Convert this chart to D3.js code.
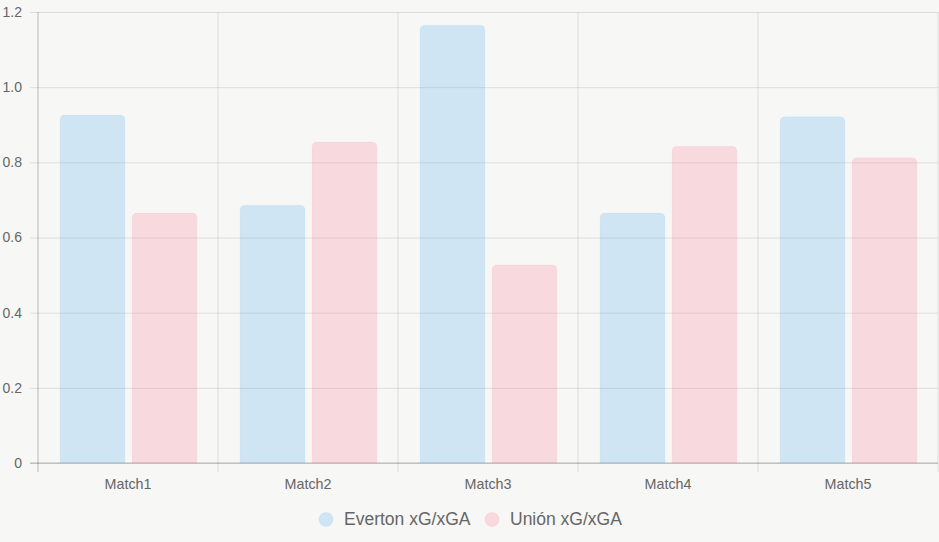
<!DOCTYPE html>
<html>
<head>
<meta charset="utf-8">
<script src="https://cdn.jsdelivr.net/npm/d3@7"></script>
<style>
  body { margin: 0; background: #f7f7f5; }
  svg { display: block; font-family: "Liberation Sans", Arial, Helvetica, sans-serif; }
</style>
</head>
<body>
<div id="chart"></div>
<script>
var matches = ["Match1", "Match2", "Match3", "Match4", "Match5"];
var evertonXG = [0.926, 0.686, 1.165, 0.665, 0.921];
var unionXG = [0.665, 0.854, 0.527, 0.843, 0.812];
var seriesNames = ["Everton xG/xGA", "Unión xG/xGA"];
var yTicks = [0, 0.2, 0.4, 0.6, 0.8, 1.0, 1.2];

var svgWidth = 939;
var svgHeight = 542;

var margin = { top: 12, right: 1, bottom: 79, left: 38 };
var chartWidth = svgWidth - margin.left - margin.right;
var chartHeight = svgHeight - margin.top - margin.bottom;

var fills = ["rgba(54,162,235,0.2)", "rgba(255,99,132,0.2)"];
var strokes = ["rgba(54,162,235,0.1)", "rgba(255,99,132,0.1)"];

var svg = d3.select("#chart")
  .append("svg")
  .attr("width", svgWidth)
  .attr("height", svgHeight);

svg.append("rect")
  .attr("width", svgWidth)
  .attr("height", svgHeight)
  .attr("fill", "#f7f7f5");

var chartGroup = svg.append("g")
  .attr("transform", `translate(${margin.left}, ${margin.top})`);

var xScale = d3.scaleBand()
  .domain(matches)
  .range([0, chartWidth]);

// chart.js style: categoryPercentage 0.8, barPercentage 0.9
var xInner = d3.scaleBand()
  .domain([0, 1])
  .range([xScale.bandwidth() * 0.1, xScale.bandwidth() * 0.9])
  .paddingInner(0.1)
  .paddingOuter(0.05);

var yScale = d3.scaleLinear()
  .domain([0, 1.2])
  .range([chartHeight, 0]);

// horizontal grid
var leftAxis = d3.axisLeft(yScale)
  .tickValues(yTicks)
  .tickSize(-chartWidth - 8)
  .tickFormat(d => d === 0 ? "0" : d3.format(".1f")(d))
  .tickPadding(-6);

var gy = chartGroup.append("g")
  .attr("transform", "translate(-8,0)")
  .call(leftAxis);
gy.select(".domain").remove();
gy.selectAll("line").attr("stroke", "rgba(0,0,0,0.1)");
gy.selectAll("text")
  .attr("x", 6)
  .attr("dx", -8)
  .attr("fill", "#666")
  .style("font-size", "14px")
  .style("text-anchor", "end");
gy.selectAll(".tick text").attr("transform", "translate(-6,0)");

// vertical grid
var gridX = chartGroup.append("g");
var xLines = d3.range(matches.length + 1).map(i => i * xScale.step());
gridX.selectAll("line")
  .data(xLines)
  .enter()
  .append("line")
  .attr("x1", d => d)
  .attr("x2", d => d)
  .attr("y1", 0)
  .attr("y2", chartHeight + 9)
  .attr("stroke", (d, i) => i === 0 ? "rgba(0,0,0,0.25)" : "rgba(0,0,0,0.1)");

// zero line
chartGroup.append("line")
  .attr("x1", -8)
  .attr("x2", chartWidth)
  .attr("y1", yScale(0))
  .attr("y2", yScale(0))
  .attr("stroke", "rgba(0,0,0,0.25)");

// bars
var allSeries = [evertonXG, unionXG];
var radius = 5;
function barPath(x, y, w, h) {
  var r = Math.min(radius, h);
  return `M${x},${y + h}V${y + r}Q${x},${y} ${x + r},${y}H${x + w - r}Q${x + w},${y} ${x + w},${y + r}V${y + h}Z`;
}

allSeries.forEach(function(values, s) {
  chartGroup.selectAll(".bar" + s)
    .data(values)
    .enter()
    .append("path")
    .attr("class", "bar" + s)
    .attr("d", (d, i) => barPath(
      xScale(matches[i]) + xInner(s) + 0.5,
      yScale(d),
      xInner.bandwidth(),
      yScale(0) - yScale(d)))
    .attr("fill", fills[s])
    .attr("stroke", strokes[s])
    .attr("stroke-width", 0.5);
});

// x labels
chartGroup.selectAll(".xlabel")
  .data(matches)
  .enter()
  .append("text")
  .attr("x", d => xScale(d) + xScale.bandwidth() / 2)
  .attr("y", chartHeight + 26)
  .attr("text-anchor", "middle")
  .attr("fill", "#666")
  .style("font-size", "14.3px")
  .text(d => d);

// legend
var legend = svg.append("g").attr("transform", "translate(0,519)");
var legendItems = [
  { x: 326, name: seriesNames[0], s: 0 },
  { x: 492, name: seriesNames[1], s: 1 }
];
legendItems.forEach(function(item) {
  legend.append("circle")
    .attr("cx", item.x)
    .attr("cy", 0.5)
    .attr("r", 7)
    .attr("fill", fills[item.s])
    .attr("stroke", strokes[item.s]);
  legend.append("text")
    .attr("x", item.x + 18)
    .attr("y", 6.3)
    .attr("fill", "#666")
    .style("font-size", "17.5px")
    .text(item.name);
});
</script>
</body>
</html>
